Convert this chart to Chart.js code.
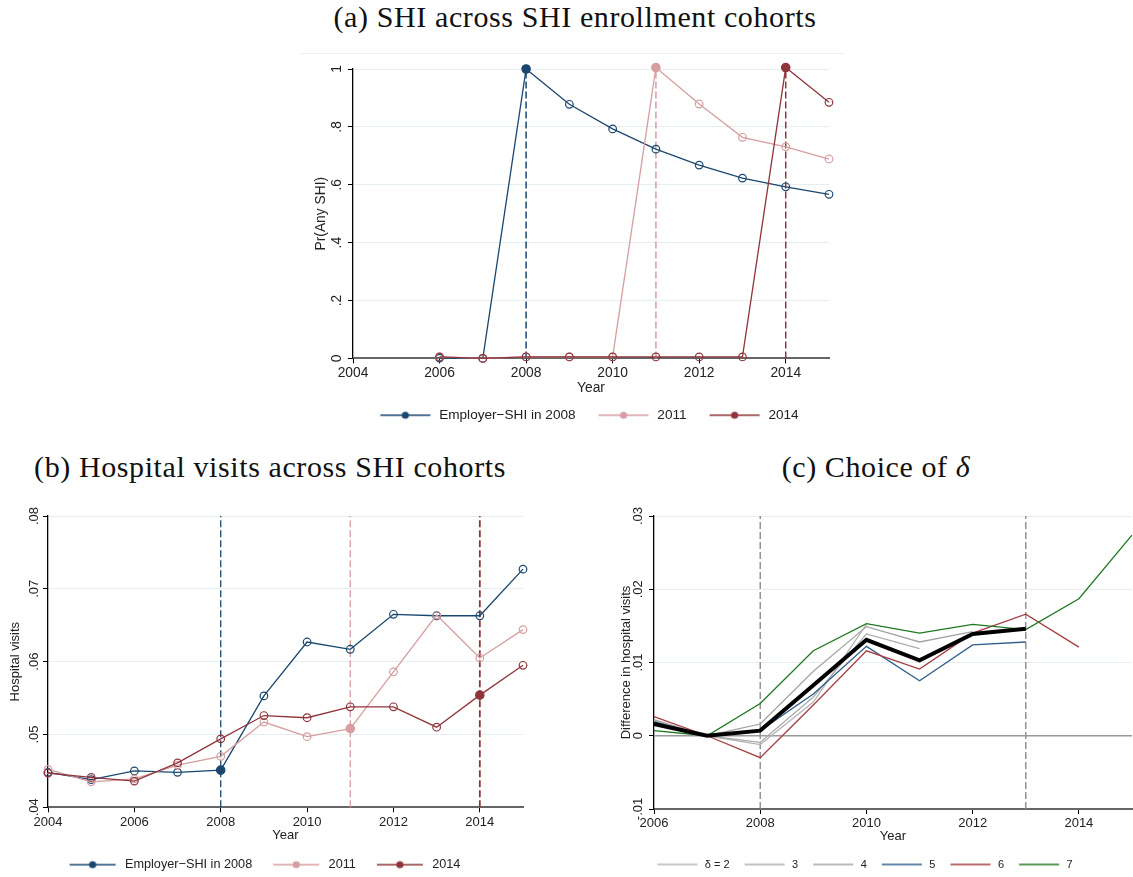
<!DOCTYPE html>
<html>
<head>
<meta charset="utf-8">
<script src="https://cdn.jsdelivr.net/npm/chart.js@4.4.1/dist/chart.umd.min.js"></script>
<style>
  body { margin: 0; width: 1133px; height: 877px; overflow: hidden; background: #fff; position: relative; }
  .panel-title { position: absolute; font-family: "Liberation Serif", serif; font-size: 30px; letter-spacing: 0.6px; line-height: 34px; color: #111; white-space: nowrap; transform: translateX(-50%); }
  .region-line { position: absolute; left: 300px; top: 53px; width: 545px; height: 1px; background: #eef1f1; }
  canvas { position: absolute; }
</style>
</head>
<body>
<div class="panel-title" style="left:575px; top:0px">(a) SHI across SHI enrollment cohorts</div>
<div class="panel-title" style="left:270px; top:450px">(b) Hospital visits across SHI cohorts</div>
<div class="panel-title" style="left:876px; top:450px">(c) Choice of <i>δ</i></div>
<div class="region-line"></div>
<canvas id="chartA" width="545" height="395" style="left:300px; top:45px"></canvas>
<canvas id="chartB" width="560" height="400" style="left:0px; top:495px"></canvas>
<canvas id="chartC" width="568" height="400" style="left:565px; top:495px"></canvas>
<script>
// cohort years (enrollment year of each SHI cohort)
const cohortYears = [2008, 2011, 2014];
const cohortLabels = ["Employer\u2212SHI in 2008", "2011", "2014"];

// (a) share with any SHI
const yearsA = [2006, 2007, 2008, 2009, 2010, 2011, 2012, 2013, 2014, 2015];
const shiCohort2008 = [0.001, 0, 1, 0.878, 0.793, 0.723, 0.668, 0.623, 0.593, 0.567];
const shiCohort2011 = [0.005, 0, 0.005, 0.005, 0.005, 1.005, 0.879, 0.764, 0.731, 0.689];
const shiCohort2014 = [0.005, 0, 0.005, 0.005, 0.005, 0.005, 0.005, 0.005, 1.005, 0.885];
const xTicksA = [2004, 2006, 2008, 2010, 2012, 2014];
const yTicksA = [0, 0.2, 0.4, 0.6, 0.8, 1];

// (b) hospital visits
const yearsB = [2004, 2005, 2006, 2007, 2008, 2009, 2010, 2011, 2012, 2013, 2014, 2015];
const visits2008 = [0.0448, 0.0438, 0.0450, 0.0448, 0.0451, 0.0553, 0.0627, 0.0617, 0.0665, 0.0663, 0.0663, 0.0727];
const visits2011 = [0.0452, 0.0435, 0.0439, 0.0458, 0.0470, 0.0517, 0.0497, 0.0508, 0.0586, 0.0664, 0.0605, 0.0644];
const visits2014 = [0.0447, 0.0441, 0.0436, 0.0461, 0.0494, 0.0526, 0.0523, 0.0538, 0.0538, 0.0510, 0.0554, 0.0595];
const xTicksB = [2004, 2006, 2008, 2010, 2012, 2014];
const yTicksB = [0.04, 0.05, 0.06, 0.07, 0.08];

// (c) difference in hospital visits by delta
const yearsC = [2006, 2007, 2008, 2009, 2010, 2011, 2012, 2013, 2014, 2015];
const deltaLabels = ["\u03b4 = 2", "3", "4", "5", "6", "7"];
const diffDelta2 = [0.0021, 0, -0.0012, 0.0046, 0.0152];
const diffDelta3 = [0.0022, 0, -0.0009, 0.0053, 0.0139, 0.0119];
const diffDelta4 = [0.0020, 0, 0.0016, 0.0088, 0.0149, 0.0128, 0.0142];
const diffDelta5 = [0.0019, 0, 0.0007, 0.0057, 0.0122, 0.0075, 0.0124, 0.0128];
const diffDelta6 = [0.0026, 0, -0.0030, 0.0042, 0.0116, 0.0091, 0.0140, 0.0166, 0.0121];
const diffDelta7 = [0.0007, 0, 0.0044, 0.0116, 0.0153, 0.0140, 0.0152, 0.0145, 0.0187, 0.0274];
const diffAverage = [0.0016, 0, 0.0007, 0.0069, 0.0131, 0.0103, 0.0139, 0.0146];
const eventYearsC = [2008, 2013];
const xTicksC = [2006, 2008, 2010, 2012, 2014];
const yTicksC = [-0.01, 0, 0.01, 0.02, 0.03];

const NAVY = "#1a476f";
const PINK = "#d69ea1";
const MAROON = "#90353b";
const SANS = '"Liberation Sans", Arial, sans-serif';

function toPoints(xs, ys) {
	return ys.map((v, i) => ({ x: xs[i], y: v }));
}

// stata style numbers: .8, -.01, 0, 1
function stataNumber(v) {
	const s = String(Math.round(v * 1000) / 1000);
	return s.replace(/^(-?)0\./, "$1.");
}

// line + dot swatch for the legend
function legendSwatch(color, width, lead, lineLen, withDot, lineWidth) {
	const c = document.createElement("canvas");
	c.width = width;
	c.height = 10;
	const g = c.getContext("2d");
	g.strokeStyle = color;
	g.lineWidth = lineWidth;
	g.beginPath();
	g.moveTo(lead, 5);
	g.lineTo(lead + lineLen, 5);
	g.stroke();
	if (withDot) {
		g.fillStyle = color;
		g.beginPath();
		g.arc(lead + lineLen / 2, 5, 3.6, 0, Math.PI * 2);
		g.fill();
	}
	return c;
}

// rotated y tick labels, drawn next to the axis
const stataYLabels = {
	id: "stataYLabels",
	afterDraw(chart, args, opts) {
		const { ctx, chartArea } = chart;
		const y = chart.scales.y;
		ctx.save();
		ctx.font = opts.size + "px " + SANS;
		ctx.fillStyle = "#222";
		ctx.textAlign = "center";
		ctx.textBaseline = "middle";
		y.ticks.forEach((t) => {
			ctx.save();
			ctx.translate(chartArea.left - opts.offset, y.getPixelForValue(t.value));
			ctx.rotate(-Math.PI / 2);
			ctx.fillText(t.label, 0, 0);
			ctx.restore();
		});
		ctx.restore();
	},
};

// slide the legend row sideways once the layout is done
const legendNudge = {
	id: "legendNudge",
	afterLayout(chart, args, opts) {
		if (!chart.legend || !opts.dx) return;
		chart.legend.left += opts.dx;
		chart.legend.right += opts.dx;
	},
};

function cohortSeries(label, xs, ys, color, cohort, order) {
	return {
		label: label,
		data: toPoints(xs, ys),
		borderColor: color,
		borderWidth: 1.3,
		pointBorderColor: color,
		pointBorderWidth: 1.2,
		pointBackgroundColor: (c) => (c.raw && c.raw.x === cohort ? color : "rgba(0,0,0,0)"),
		pointRadius: (c) => (c.raw && c.raw.x === cohort ? 4.2 : 3.8),
		clip: false,
		order: order,
	};
}

function refLine(points, color, dashed, width) {
	return {
		label: "",
		isRef: true,
		data: points,
		borderColor: color,
		borderWidth: width,
		borderDash: dashed ? [7, 3] : [],
		pointRadius: 0,
		clip: false,
		order: 10,
	};
}

function makeOptions(cfg) {
	const axisFont = { family: SANS, size: cfg.fontSize };
	return {
		responsive: false,
		animation: false,
		events: [],
		layout: { padding: cfg.padding },
		plugins: {
			tooltip: { enabled: false },
			stataYLabels: { offset: cfg.labelOffset, size: cfg.fontSize },
			legendNudge: { dx: cfg.legendDx },
			legend: {
				position: "bottom",
				fullSize: cfg.legendFull,
				labels: {
					usePointStyle: true,
					pointStyleWidth: cfg.swatchWidth,
					padding: 10,
					color: "#222",
					font: { family: SANS, size: cfg.legendFont },
					filter: (item, data) => !data.datasets[item.datasetIndex].isRef && !data.datasets[item.datasetIndex].noLegend,
					sort: (a, b) => a.datasetIndex - b.datasetIndex,
					generateLabels: (chart) =>
						Chart.defaults.plugins.legend.labels.generateLabels(chart).map((it) => {
							it.pointStyle = chart.data.datasets[it.datasetIndex].swatch || "line";
							return it;
						}),
				},
			},
		},
		scales: {
			x: {
				type: "linear",
				min: cfg.xMin,
				max: cfg.xMax,
				afterBuildTicks: (s) => {
					s.ticks = cfg.xTicks.map((v) => ({ value: v }));
				},
				afterFit: (s) => {
					s.height = cfg.xHeight;
				},
				ticks: { color: "#222", font: axisFont, padding: 2, maxRotation: 0, autoSkip: false, callback: (v) => String(v) },
				grid: { drawOnChartArea: false, tickLength: 5, tickColor: "#000" },
				border: { color: "#666", width: 2 },
				title: { display: true, text: "Year", color: "#222", font: axisFont, padding: { top: 0, bottom: cfg.xTitlePad } },
			},
			y: {
				min: cfg.yMin,
				max: cfg.yMax,
				afterBuildTicks: (s) => {
					s.ticks = cfg.yTicks.map((v) => ({ value: v }));
				},
				afterFit: (s) => {
					s.width = cfg.yWidth;
				},
				ticks: { display: false, callback: (v) => stataNumber(v) },
				grid: { color: "#e6eef0", lineWidth: 1, tickLength: 5, tickColor: "#000" },
				border: { color: "#000", width: 1.3 },
				title: { display: true, text: cfg.yTitle, color: "#222", font: axisFont, padding: { top: 0, bottom: 0 } },
			},
		},
	};
}

// (a)
const setA = [
	cohortSeries(cohortLabels[0], yearsA, shiCohort2008, NAVY, cohortYears[0], 3),
	cohortSeries(cohortLabels[1], yearsA, shiCohort2011, PINK, cohortYears[1], 2),
	cohortSeries(cohortLabels[2], yearsA, shiCohort2014, MAROON, cohortYears[2], 1),
];
setA[0].swatch = legendSwatch(NAVY, 65, 13, 50, true, 1.3);
setA[1].swatch = legendSwatch(PINK, 65, 13, 50, true, 1.3);
setA[2].swatch = legendSwatch(MAROON, 65, 13, 50, true, 1.3);
setA.push(refLine([{ x: cohortYears[0], y: 0 }, { x: cohortYears[0], y: shiCohort2008[2] }], NAVY, true, 1.5));
setA.push(refLine([{ x: cohortYears[1], y: 0 }, { x: cohortYears[1], y: shiCohort2011[5] }], PINK, true, 1.5));
setA.push(refLine([{ x: cohortYears[2], y: 0 }, { x: cohortYears[2], y: shiCohort2014[8] }], MAROON, true, 1.5));

new Chart(document.getElementById("chartA"), {
	type: "line",
	data: { datasets: setA },
	options: makeOptions({
		padding: { left: 13, right: 16, top: 24, bottom: 8 },
		fontSize: 13.8,
		labelOffset: 16,
		legendFull: false,
		legendDx: -8,
		swatchWidth: 65,
		legendFont: 13.6,
		xMin: 2004, xMax: 2015, xTicks: xTicksA, xHeight: 40, xTitlePad: 2,
		yMin: 0, yMax: 1, yTicks: yTicksA, yWidth: 40, yTitle: "Pr(Any SHI)",
	}),
	plugins: [stataYLabels, legendNudge],
});

// (b)
const setB = [
	cohortSeries(cohortLabels[0], yearsB, visits2008, NAVY, cohortYears[0], 3),
	cohortSeries(cohortLabels[1], yearsB, visits2011, PINK, cohortYears[1], 2),
	cohortSeries(cohortLabels[2], yearsB, visits2014, MAROON, cohortYears[2], 1),
];
setB[0].swatch = legendSwatch(NAVY, 60, 11, 46, true, 1.3);
setB[1].swatch = legendSwatch(PINK, 60, 11, 46, true, 1.3);
setB[2].swatch = legendSwatch(MAROON, 60, 11, 46, true, 1.3);
cohortYears.forEach((yr, i) => {
	setB.push(refLine([{ x: yr, y: yTicksB[0] }, { x: yr, y: yTicksB[yTicksB.length - 1] }], [NAVY, PINK, MAROON][i], true, i === 2 ? 1.8 : 1.3));
});

new Chart(document.getElementById("chartB"), {
	type: "line",
	data: { datasets: setB },
	options: makeOptions({
		padding: { left: 8, right: 37, top: 21, bottom: 14 },
		fontSize: 13,
		labelOffset: 14,
		legendFull: true,
		legendDx: -6,
		swatchWidth: 60,
		legendFont: 12.7,
		xMin: 2004, xMax: 2015, xTicks: xTicksB, xHeight: 41, xTitlePad: 5,
		yMin: 0.04, yMax: 0.08, yTicks: yTicksB, yWidth: 40, yTitle: "Hospital visits",
	}),
	plugins: [stataYLabels, legendNudge],
});

// (c)
const deltaColors = ["#b4b4b4", "#acacac", "#a4a4a4", "#2f5f8c", "#a63c40", "#1e781e"];
const deltaSeries = [diffDelta2, diffDelta3, diffDelta4, diffDelta5, diffDelta6, diffDelta7];
const setC = deltaSeries.map((ys, i) => ({
	label: deltaLabels[i],
	data: toPoints(yearsC, ys),
	borderColor: deltaColors[i],
	borderWidth: 1.3,
	pointRadius: 0,
	clip: false,
	order: 6 - i,
	swatch: legendSwatch(deltaColors[i], 47, 5, 40, false, 1.5),
}));
setC.push({
	label: "average",
	noLegend: true,
	data: toPoints(yearsC, diffAverage),
	borderColor: "#000",
	borderWidth: 4,
	pointRadius: 0,
	clip: false,
	order: 0,
});
setC.push(refLine([{ x: 2006, y: 0 }, { x: 2015, y: 0 }], "#9a9a9a", false, 1.5));
eventYearsC.forEach((yr) => {
	setC.push(refLine([{ x: yr, y: yTicksC[0] }, { x: yr, y: yTicksC[yTicksC.length - 1] }], "#8c8c8c", true, 1.4));
});

new Chart(document.getElementById("chartC"), {
	type: "line",
	data: { datasets: setC },
	options: makeOptions({
		padding: { left: 54, right: 1, top: 21, bottom: 15 },
		fontSize: 13,
		labelOffset: 16,
		legendFull: true,
		legendDx: -13,
		swatchWidth: 47,
		legendFont: 11,
		xMin: 2006, xMax: 2015, xTicks: xTicksC, xHeight: 40, xTitlePad: 5,
		yMin: -0.01, yMax: 0.03, yTicks: yTicksC, yWidth: 35, yTitle: "Difference in hospital visits",
	}),
	plugins: [stataYLabels, legendNudge],
});
</script>
</body>
</html>
